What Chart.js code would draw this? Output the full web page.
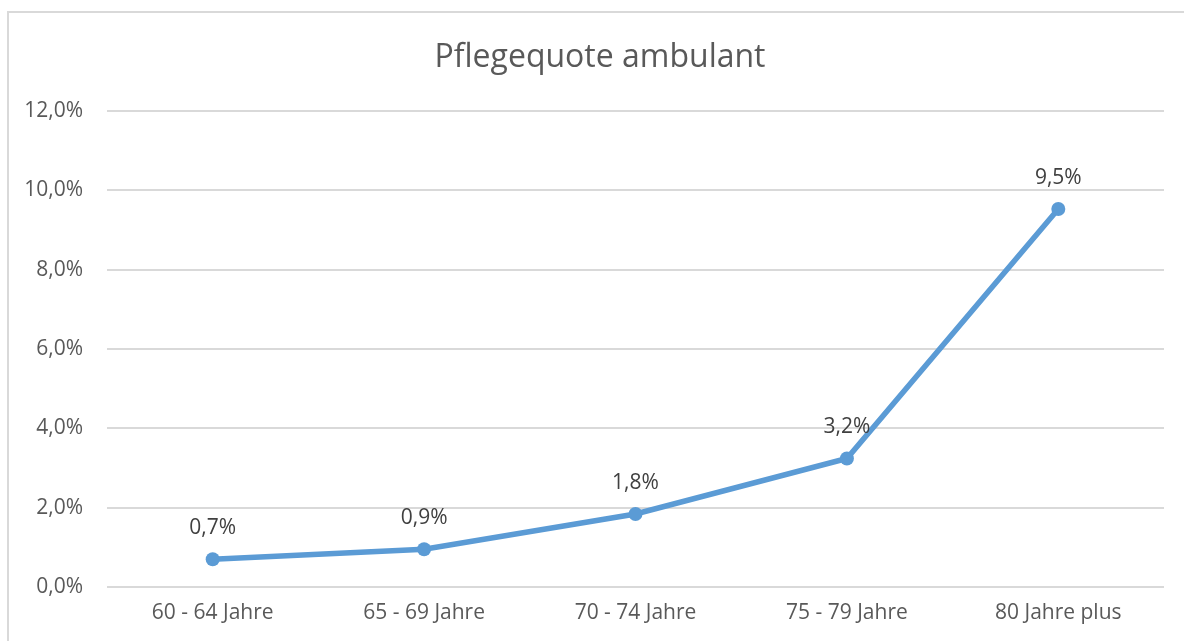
<!DOCTYPE html>
<html>
<head>
<meta charset="utf-8">
<script src="https://cdn.jsdelivr.net/npm/chart.js@4"></script>
<style>
	html, body { margin: 0; padding: 0; background: #fff; overflow: hidden; }
	#frame { position: absolute; left: 7px; top: 11px; width: 1300px; height: 800px; border: 2px solid #d9d9d9; }
	#wrap { position: absolute; left: 0; top: 0; width: 1184px; height: 641px; }
</style>
</head>
<body>
<div id="frame"></div>
<div id="wrap"><canvas id="chart"></canvas></div>
<script>
const categories = ['60 - 64 Jahre', '65 - 69 Jahre', '70 - 74 Jahre', '75 - 79 Jahre', '80 Jahre plus'];
const values = [0.70, 0.95, 1.84, 3.24, 9.53]; // percent
const yTicks = [0, 2, 4, 6, 8, 10, 12];
const chartTitle = 'Pflegequote ambulant';

const fontFamily = '"Open Sans", sans-serif';
const textColor = '#595959';

// formats 9.53 -> "9,5%"
function pct(v, digits) {
	return v.toFixed(digits).replace('.', ',') + '%';
}

// value labels above each point, plus the title (the original chart is wider
// than the window, so its title sits right of the canvas centre)
const labelsAndTitle = {
	id: 'labelsAndTitle',
	afterDatasetsDraw(chart) {
		const ctx = chart.ctx;
		const meta = chart.getDatasetMeta(0);
		ctx.save();
		ctx.font = '21px ' + fontFamily;
		ctx.fillStyle = '#404040';
		ctx.textAlign = 'center';
		ctx.textBaseline = 'middle';
		meta.data.forEach((pt, i) => {
			ctx.fillText(pct(values[i], 1), pt.x, pt.y - 31);
		});
		ctx.font = '32px ' + fontFamily;
		ctx.fillStyle = textColor;
		ctx.fillText(chartTitle, 600, 58);
		ctx.restore();
	},
};

new Chart(document.getElementById('chart'), {
	type: 'line',
	data: {
		labels: categories,
		datasets: [
			{
				data: values,
				borderColor: '#5b9bd5',
				backgroundColor: '#5b9bd5',
				borderWidth: 5.5,
				pointRadius: 7,
				pointHoverRadius: 7,
				pointBackgroundColor: '#5b9bd5',
				pointBorderWidth: 0,
				tension: 0,
			},
		],
	},
	options: {
		responsive: true,
		maintainAspectRatio: false,
		animation: false,
		layout: { padding: { left: 0, right: 20, top: 111, bottom: 0 } },
		plugins: {
			legend: { display: false },
			tooltip: { enabled: false },
			title: { display: false },
		},
		scales: {
			x: {
				offset: true,
				grid: { display: false, drawTicks: false },
				border: { display: false },
				ticks: { color: textColor, font: { family: fontFamily, size: 21 }, padding: 13 },
				afterFit(scale) { scale.height = 641 - 587; },
			},
			y: {
				min: 0,
				max: 12,
				afterBuildTicks(scale) { scale.ticks = yTicks.map((v) => ({ value: v })); },
				grid: { color: '#d9d9d9', lineWidth: 2, drawTicks: false },
				border: { display: false },
				ticks: {
					color: textColor,
					font: { family: fontFamily, size: 21 },
					padding: 24,
					callback: (v) => pct(v, 1),
				},
				afterFit(scale) { scale.width = 107; },
			},
		},
	},
	plugins: [labelsAndTitle],
});
</script>
</body>
</html>
